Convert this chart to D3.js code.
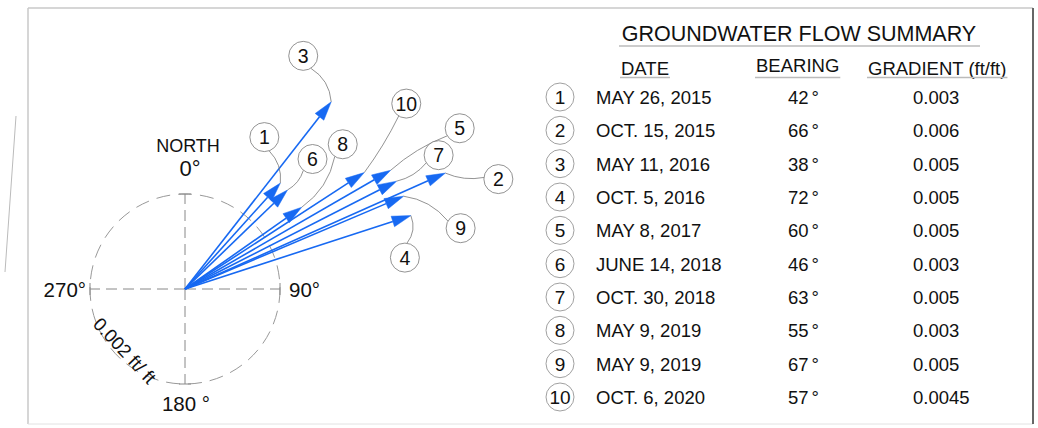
<!DOCTYPE html>
<html>
<head>
<meta charset="utf-8">
<script src="https://cdn.jsdelivr.net/npm/d3@7"></script>
<style>
  body { margin: 0; background: #fff; }
  text { font-family: "Liberation Sans", Arial, sans-serif; fill: #111; }
</style>
</head>
<body>
<div id="chart"></div>
<script>
// groundwater flow summary data
var ids = [1, 2, 3, 4, 5, 6, 7, 8, 9, 10];
var dates = ['MAY 26, 2015', 'OCT. 15, 2015', 'MAY 11, 2016', 'OCT. 5, 2016', 'MAY 8, 2017',
  'JUNE 14, 2018', 'OCT. 30, 2018', 'MAY 9, 2019', 'MAY 9, 2019', 'OCT. 6, 2020'];
var bearings = [42, 66, 38, 72, 60, 46, 63, 55, 67, 57];
var gradients = [0.003, 0.006, 0.005, 0.005, 0.005, 0.003, 0.005, 0.003, 0.005, 0.0045];
var headers = ['DATE', 'BEARING', 'GRADIENT (ft/ft)'];
var compassLabels = ['0°', '90°', '180 °', '270°'];

// callout placement (offset from arrow tip) and leader bulge
var calloutOffsets = [[-16, -46], [53, 6], [-28, -46], [-6, 42], [69, -42], [25, -31], [42, -26], [41, -63], [57, 32], [42, -69]];
var leaderBulge = [8, 6, 10, -8, -6, 5, 6, 12, -10, 3];

var width = 1038, height = 428;
var cx = 185, cy = 289;
var blue = '#1769f2';

var svg = d3.select('#chart').append('svg')
    .attr('width', width)
    .attr('height', height);

// frame
svg.append('line').attr('x1', 28).attr('y1', 8).attr('x2', 1033).attr('y2', 8)
    .style('stroke', '#c8c8c8').style('stroke-width', 1.5);
svg.append('line').attr('x1', 28).attr('y1', 8).attr('x2', 28).attr('y2', 424)
    .style('stroke', '#c8c8c8').style('stroke-width', 1.5);
svg.append('line').attr('x1', 28).attr('y1', 424).attr('x2', 1033).attr('y2', 424)
    .style('stroke', '#e2e2e2').style('stroke-width', 1);
svg.append('line').attr('x1', 1033).attr('y1', 8).attr('x2', 1033).attr('y2', 424)
    .style('stroke', '#666').style('stroke-width', 2);
svg.append('line').attr('x1', 16).attr('y1', 116).attr('x2', 5).attr('y2', 272)
    .style('stroke', '#bbb').style('stroke-width', 1);

var r = d3.scaleLinear().domain([0, 0.002]).range([0, 95]);
var rad = function(deg) { return deg * Math.PI / 180; };
var pt = function(deg, g) {
  return [cx + r(g) * Math.sin(rad(deg)), cy - r(g) * Math.cos(rad(deg))];
};

// compass: dashed circle and cross
var g = svg.append('g');
g.append('circle')
    .attr('cx', cx).attr('cy', cy).attr('r', r(0.002))
    .style('fill', 'none').style('stroke', '#999').style('stroke-width', 1)
    .style('stroke-dasharray', '14,8');

[0, 90, 180, 270].forEach(function(deg) {
  var p = pt(deg, 0.002);
  g.append('line')
      .attr('x1', cx).attr('y1', cy).attr('x2', p[0]).attr('y2', p[1])
      .style('stroke', '#888').style('stroke-width', 1)
      .style('stroke-dasharray', '11,6');
  var tx = Math.cos(rad(deg)) * 6, ty = Math.sin(rad(deg)) * 6;
  g.append('line')
      .attr('x1', p[0] - tx).attr('y1', p[1] - ty).attr('x2', p[0] + tx).attr('y2', p[1] + ty)
      .style('stroke', '#888').style('stroke-width', 1);
});

g.append('text').attr('x', 188).attr('y', 152).attr('text-anchor', 'middle')
    .style('font-size', '18px').text('NORTH');
g.append('text').attr('x', 190).attr('y', 176).attr('text-anchor', 'middle')
    .style('font-size', '22px').text(compassLabels[0]);
g.append('text').attr('x', 289).attr('y', 297)
    .style('font-size', '20.5px').text(compassLabels[1]);
g.append('text').attr('x', 186).attr('y', 411).attr('text-anchor', 'middle')
    .style('font-size', '20.5px').text(compassLabels[2]);
g.append('text').attr('x', 86).attr('y', 297).attr('text-anchor', 'end')
    .style('font-size', '20.5px').text(compassLabels[3]);
g.append('text').attr('transform', 'translate(92,325) rotate(47)')
    .style('font-size', '18.5px').text('0.002 ft/ ft');

// flow arrows
var headLen = 19, headW = 5.5;
var arrows = svg.append('g');
ids.forEach(function(id, i) {
  var tip = pt(bearings[i], gradients[i]);
  var ux = Math.sin(rad(bearings[i])), uy = -Math.cos(rad(bearings[i]));
  var bx = tip[0] - ux * headLen, by = tip[1] - uy * headLen;
  arrows.append('line')
      .attr('x1', cx).attr('y1', cy).attr('x2', bx).attr('y2', by)
      .style('stroke', blue).style('stroke-width', 1.6);
  arrows.append('path')
      .attr('d', 'M' + tip[0] + ',' + tip[1] +
        'L' + (bx - uy * headW) + ',' + (by + ux * headW) +
        'L' + (bx + uy * headW) + ',' + (by - ux * headW) + 'Z')
      .style('fill', blue).style('stroke', blue).style('stroke-width', 0.5);
});

// callouts with leaders
var cr = 14.5;
var callouts = svg.append('g');
ids.forEach(function(id, i) {
  var tip = pt(bearings[i], gradients[i]);
  var lx = tip[0] + calloutOffsets[i][0], ly = tip[1] + calloutOffsets[i][1];
  var vx = tip[0] - lx, vy = tip[1] - ly, vl = Math.sqrt(vx * vx + vy * vy);
  var ex = lx + vx / vl * cr, ey = ly + vy / vl * cr;
  var dx = ex - tip[0], dy = ey - tip[1], dl = Math.sqrt(dx * dx + dy * dy);
  var qx = (tip[0] + ex) / 2 - dy / dl * leaderBulge[i],
      qy = (tip[1] + ey) / 2 + dx / dl * leaderBulge[i];
  callouts.append('path')
      .attr('d', 'M' + tip[0] + ',' + tip[1] + 'Q' + qx + ',' + qy + ' ' + ex + ',' + ey)
      .style('fill', 'none').style('stroke', '#777').style('stroke-width', 0.8);
  callouts.append('circle').attr('cx', lx).attr('cy', ly).attr('r', cr)
      .style('fill', '#fff').style('stroke', '#777').style('stroke-width', 0.8);
  callouts.append('text').attr('x', lx).attr('y', ly + 7).attr('text-anchor', 'middle')
      .style('font-size', '19.5px').text(id);
});

// summary table
var table = svg.append('g');
table.append('text').attr('x', 799).attr('y', 41).attr('text-anchor', 'middle')
    .style('font-size', '21.5px').text('GROUNDWATER FLOW SUMMARY');
table.append('line').attr('x1', 619).attr('y1', 46).attr('x2', 980).attr('y2', 46)
    .style('stroke', '#bbb').style('stroke-width', 1.5);

var headX = [621, 756, 868], headY = [75, 72, 75];
headers.forEach(function(h, j) {
  var t = table.append('text').attr('x', headX[j]).attr('y', headY[j])
      .style('font-size', '18.5px').text(h);
  var w = t.node().getComputedTextLength();
  table.append('line').attr('x1', headX[j] - 1).attr('y1', 77.5).attr('x2', headX[j] + w + 1).attr('y2', 77.5)
      .style('stroke', '#bbb').style('stroke-width', 1.5);
});

var rowY = d3.scaleLinear().domain([1, 10]).range([97, 397]);
ids.forEach(function(id, i) {
  var y = rowY(id);
  table.append('circle').attr('cx', 560).attr('cy', y).attr('r', 14)
      .style('fill', '#fff').style('stroke', '#888').style('stroke-width', 0.8);
  table.append('text').attr('x', 560).attr('y', y + 7).attr('text-anchor', 'middle')
      .style('font-size', '19px').text(id);
  table.append('text').attr('x', 596).attr('y', y + 7)
      .style('font-size', '18.5px').text(dates[i]);
  var b = table.append('text').attr('x', 788).attr('y', y + 7)
      .style('font-size', '18.5px').text(bearings[i]);
  b.append('tspan').attr('dx', 3).text('°');
  table.append('text').attr('x', 913).attr('y', y + 7)
      .style('font-size', '18.5px').text(String(gradients[i]));
});
</script>
</body>
</html>
